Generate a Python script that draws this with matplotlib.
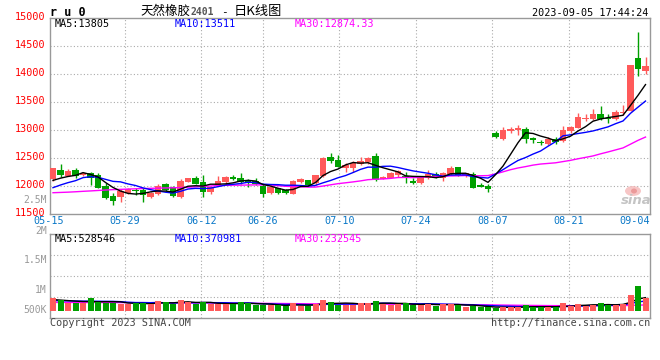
import matplotlib
matplotlib.use("Agg")
import matplotlib.pyplot as plt
from matplotlib import transforms
from matplotlib.patches import Ellipse

# ---------------- data ----------------
opens = [12119, 12286, 12184, 12286, 12190, 12226, 12196, 12006, 11821, 11798,
         11869, 11929, 11929, 11798, 11851, 12030, 11988, 11798, 12077, 12137,
         12077, 11899, 12018, 12077, 12155, 12149, 12107, 12089, 12000, 11869,
         11958, 11929, 11857, 12077, 12107, 12048, 12179, 12524, 12464, 12315,
         12315, 12393, 12423, 12536, 12131, 12149, 12196, 12184, 12083, 12048,
         12137, 12214, 12137, 12208, 12345, 12184, 12214, 12018, 12006, 12940,
         12845, 12988, 13000, 13018, 12851, 12792, 12750, 12833, 12809, 12988,
         13042, 13196, 13196, 13280, 13220, 13190, 13310, 13345, 14280, 14059]
highs = [12330, 12393, 12298, 12330, 12256, 12256, 12238, 12048, 11869, 11940,
         11958, 11970, 11970, 11899, 12036, 12060, 12000, 12119, 12149, 12179,
         12196, 12000, 12179, 12179, 12196, 12238, 12125, 12149, 12030, 12018,
         11970, 11940, 12107, 12143, 12107, 12196, 12515, 12583, 12554, 12410,
         12440, 12524, 12524, 12583, 12179, 12256, 12286, 12256, 12137, 12179,
         12286, 12256, 12256, 12357, 12345, 12226, 12256, 12048, 12036, 12988,
         13048, 13059, 13089, 13048, 12881, 12821, 12881, 12881, 13071, 13071,
         13298, 13280, 13369, 13429, 13286, 13357, 13446, 14165, 14756, 14309]
lows = [12090, 12167, 12179, 12137, 12179, 12018, 11958, 11762, 11661, 11720,
        11857, 11839, 11720, 11780, 11839, 11917, 11810, 11790, 12065, 12030,
        11810, 11857, 12000, 12018, 12100, 12036, 11976, 12012, 11810, 11857,
        11857, 11857, 11850, 12060, 12006, 12018, 12167, 12417, 12333, 12256,
        12244, 12375, 12393, 12095, 12119, 12137, 12167, 12048, 12036, 12040,
        12119, 12137, 12095, 12196, 12184, 12167, 11958, 11976, 11899, 12851,
        12821, 12940, 12911, 12774, 12774, 12732, 12732, 12750, 12792, 12940,
        13030, 13161, 13179, 13179, 13119, 13179, 13268, 13340, 13970, 13994]
closes = [12315, 12190, 12274, 12179, 12238, 12149, 11970, 11780, 11732, 11917,
          11940, 11911, 11839, 11869, 12000, 11929, 11821, 12095, 12137, 12042,
          11899, 11988, 12095, 12167, 12131, 12065, 12048, 12036, 11857, 11988,
          11869, 11881, 12095, 12119, 12018, 12196, 12506, 12452, 12345, 12380,
          12410, 12452, 12494, 12107, 12167, 12226, 12268, 12137, 12060, 12155,
          12214, 12179, 12226, 12315, 12196, 12226, 11970, 11988, 11946, 12881,
          12995, 13012, 13030, 12833, 12821, 12762, 12833, 12792, 13000, 13059,
          13226, 13220, 13280, 13196, 13190, 13321, 13327, 14161, 14095, 14149]

ma5 = [12100, 12140, 12170, 12190, 12239, 12206, 12162, 12063, 11974, 11910,
       11868, 11856, 11868, 11895, 11912, 11910, 11892, 11943, 11996, 12005,
       11999, 12032, 12032, 12038, 12056, 12089, 12101, 12089, 12027, 11999,
       11960, 11926, 11938, 11990, 11996, 12062, 12187, 12258, 12303, 12376,
       12419, 12408, 12416, 12369, 12326, 12289, 12252, 12181, 12172, 12169,
       12167, 12149, 12167, 12218, 12226, 12228, 12187, 12139, 12065, 12202,
       12356, 12564, 12773, 12950, 12938, 12892, 12856, 12808, 12842, 12889,
       12982, 13059, 13157, 13196, 13222, 13241, 13263, 13439, 13619, 13811]
ma10 = [11970, 12018, 12060, 12095, 12149, 12167, 12155, 12119, 12083, 12074,
        12037, 12009, 11966, 11935, 11911, 11889, 11874, 11905, 11946, 11958,
        11954, 11962, 11988, 12017, 12030, 12044, 12067, 12061, 12033, 12027,
        12024, 12014, 12014, 12009, 11998, 12011, 12057, 12098, 12147, 12186,
        12240, 12297, 12337, 12336, 12351, 12354, 12330, 12299, 12270, 12248,
        12228, 12201, 12174, 12195, 12198, 12198, 12168, 12153, 12142, 12214,
        12292, 12376, 12456, 12508, 12570, 12624, 12710, 12791, 12896, 12914,
        12937, 12958, 12983, 13019, 13056, 13112, 13161, 13298, 13408, 13517]
ma30 = [11880, 11885, 11890, 11897, 11905, 11912, 11920, 11928, 11935, 11940,
        11945, 11950, 11955, 11958, 11962, 11965, 11968, 11972, 11978, 11985,
        11993, 12000, 12008, 12012, 12015, 12015, 12018, 12020, 12020, 12020,
        12005, 11995, 11989, 11987, 11980, 11981, 11999, 12021, 12042, 12057,
        12073, 12091, 12113, 12121, 12126, 12136, 12151, 12153, 12150, 12154,
        12164, 12171, 12175, 12180, 12182, 12187, 12185, 12183, 12186, 12216,
        12253, 12291, 12322, 12346, 12373, 12392, 12403, 12414, 12436, 12458,
        12486, 12511, 12537, 12574, 12608, 12644, 12680, 12747, 12815, 12874]

# volumes in thousands
volume = [489, 424, 296, 320, 296, 500, 358, 320, 320, 270,
          270, 296, 296, 270, 385, 347, 270, 435, 335, 270,
          347, 270, 270, 270, 270, 347, 320, 219, 219, 219,
          219, 193, 320, 193, 193, 270, 435, 358, 231, 231,
          231, 308, 308, 385, 270, 231, 270, 308, 231, 231,
          270, 204, 270, 270, 231, 166, 193, 142, 142, 116,
          142, 142, 142, 231, 166, 142, 142, 142, 308, 193,
          270, 193, 231, 308, 231, 231, 270, 616, 963, 489]
vma5 = [440, 420, 400, 380, 365, 367, 354, 359, 359, 354,
        308, 295, 290, 280, 303, 319, 314, 341, 354, 331,
        331, 331, 298, 285, 285, 285, 295, 285, 275, 265,
        239, 214, 234, 229, 224, 234, 282, 290, 297, 305,
        297, 272, 262, 293, 300, 300, 293, 293, 262, 254,
        262, 249, 241, 249, 249, 228, 226, 200, 175, 152,
        147, 137, 137, 155, 165, 165, 165, 165, 180, 185,
        211, 221, 239, 239, 247, 239, 254, 331, 462, 514]
vma10 = [400, 395, 390, 385, 380, 378, 375, 372, 370, 360,
         338, 325, 325, 320, 329, 314, 305, 316, 317, 317,
         325, 323, 320, 320, 308, 308, 313, 292, 280, 275,
         262, 255, 260, 252, 245, 237, 248, 262, 263, 265,
         266, 277, 276, 295, 303, 299, 283, 278, 278, 277,
         281, 271, 267, 256, 252, 245, 238, 221, 212, 201,
         188, 182, 169, 165, 159, 156, 151, 151, 168, 175,
         188, 193, 202, 210, 216, 225, 238, 285, 351, 381]
vma30 = [330, 330, 328, 328, 327, 327, 326, 325, 324, 323,
         322, 320, 318, 316, 315, 314, 313, 312, 311, 310,
         309, 308, 306, 304, 302, 300, 298, 296, 294, 292,
         290, 287, 284, 281, 278, 276, 275, 274, 272, 270,
         268, 266, 265, 264, 263, 262, 262, 261, 260, 258,
         256, 254, 252, 250, 248, 246, 243, 240, 236, 232,
         228, 224, 220, 217, 214, 211, 208, 206, 205, 204,
         204, 204, 204, 205, 205, 206, 208, 215, 225, 233]

date_labels = ['05-15', '05-29', '06-12', '06-26', '07-10', '07-24', '08-07', '08-21', '09-04']
date_index = [0, 10, 20, 28, 38, 48, 58, 68, 78]
price_ticks = [11500, 12000, 12500, 13000, 13500, 14000, 14500, 15000]
vol_tick_labels = ['2.5M', '2M', '1.5M', '1M', '500K']

# ---------------- layout ----------------
W, H = 660, 360
fig = plt.figure(figsize=(6.6, 3.6), dpi=100)
fig.patch.set_facecolor('white')


def fx(p):
    return p / W


def fy(p):
    return 1 - p / H


MONO = 'DejaVu Sans Mono'
CJK = ['Noto Sans CJK SC', 'DejaVu Sans']
FS = 7.3
UP = '#ff5a5a'
DN = '#00a000'
GRID = '#aaaaaa'
DOT = (0, (1, 2))
SPINE = '#999999'

ax = fig.add_axes([fx(50), fy(214), 600 / W, 196 / H])
axv = fig.add_axes([fx(50), fy(318), 600 / W, 84 / H])

n = len(closes)
xs = list(range(n))
cols = [UP if c >= o else DN for o, c in zip(opens, closes)]
bottoms = [min(o, c) for o, c in zip(opens, closes)]
heights = [max(abs(c - o), 14) for o, c in zip(opens, closes)]

# grid positions (Sina places its date grid on a slightly wider scale)
gx = [i * 1.02 - 0.6 for i in date_index]

for a in (ax, axv):
    a.set_xlim(-0.4, 79.6)
    for g in gx[1:-1]:
        a.axvline(g, color=GRID, lw=0.8, ls=DOT, zorder=1)
    for s in a.spines.values():
        s.set_color(SPINE)
        s.set_linewidth(1.0)
    a.set_xticks([])
    a.set_facecolor('white')

# main price panel
ax.set_ylim(11500, 15000)
for v in price_ticks[1:-1]:
    ax.axhline(v, color=GRID, lw=0.8, ls=DOT, zorder=1)
ax.vlines(xs, lows, highs, colors=cols, lw=1.0, zorder=2)
ax.bar(xs, heights, bottom=bottoms, width=0.82, color=cols, lw=0, zorder=3)
ax.plot(xs, ma30, color='#ff00ff', lw=1.0, zorder=4)
ax.plot(xs, ma10, color='#0000ff', lw=1.0, zorder=4)
ax.plot(xs, ma5, color='black', lw=1.0, zorder=4)

ax.set_yticks(price_ticks)
ax.set_yticklabels([str(t) for t in price_ticks])
ax.tick_params(axis='y', length=0, pad=3, labelcolor='#ff0000', labelsize=FS)
shift = transforms.ScaledTranslation(0, 2 / 100, fig.dpi_scale_trans)
for lbl in ax.get_yticklabels():
    lbl.set_family(MONO)
    lbl.set_transform(lbl.get_transform() + shift)

# date labels between panels
bl = transforms.blended_transform_factory(ax.transData, ax.transAxes)
for k, (g, lab) in enumerate(zip(gx, date_labels)):
    if k == len(date_labels) - 1:
        ax.text(1.0, -7.5 / 196, lab, transform=ax.transAxes, ha='right', va='center',
                color='#0a78c8', family=MONO, fontsize=FS)
    else:
        ax.text(g, -7.5 / 196, lab, transform=bl, ha='center', va='center',
                color='#0a78c8', family=MONO, fontsize=FS)

# volume panel
kpx = 38.5  # thousand per pixel
axv.set_ylim(-7 * kpx, 77 * kpx)
axv.set_yticks([])
for f in (0.25, 0.5, 0.75):
    axv.plot([0, 1], [f, f], transform=axv.transAxes, color=GRID, lw=0.8, ls=DOT, zorder=1)
axv.plot(xs, vma30, color='#ff00ff', lw=1.0, zorder=2)
axv.plot(xs, vma10, color='#0000ff', lw=1.0, zorder=2)
axv.plot(xs, vma5, color='black', lw=1.0, zorder=2)
axv.bar(xs, volume, width=0.8, color=cols, lw=0, zorder=3)

# volume axis labels (as drawn by the original)
for lab, py in zip(vol_tick_labels, [200, 231, 260, 290, 310]):
    fig.text(fx(47), fy(py), lab, ha='right', va='center', color='#999999',
             family=MONO, fontsize=7.0)

# header
fig.text(fx(50), fy(15.5), 'r u 0', ha='left', va='baseline', family=MONO,
         weight='bold', fontsize=8.5, color='black')
fig.text(fx(140), fy(15), '天然橡胶', ha='left', va='baseline', family=CJK,
         fontsize=9, color='black')
fig.text(fx(191), fy(15), '2401', ha='left', va='baseline', family=MONO,
         fontsize=7.0, color='#555555', weight='bold')
fig.text(fx(221), fy(15), '-', ha='left', va='baseline', family=MONO,
         fontsize=8, color='black')
fig.text(fx(234), fy(15), '日K线图', ha='left', va='baseline', family=CJK,
         fontsize=9.5, color='black')
fig.text(fx(648), fy(15.5), '2023-09-05 17:44:24', ha='right', va='baseline',
         family=MONO, fontsize=FS, color='black')

# MA legends
fig.text(fx(55), fy(23.7), 'MA5:13805', ha='left', va='center', family=MONO,
         fontsize=FS, color='black')
fig.text(fx(175), fy(23.7), 'MA10:13511', ha='left', va='center', family=MONO,
         fontsize=FS, color='#0000ff')
fig.text(fx(295), fy(23.7), 'MA30:12874.33', ha='left', va='center', family=MONO,
         fontsize=FS, color='#ff00ff')
fig.text(fx(55), fy(238.5), 'MA5:528546', ha='left', va='center', family=MONO,
         fontsize=FS, color='black')
fig.text(fx(175), fy(238.5), 'MA10:370981', ha='left', va='center', family=MONO,
         fontsize=FS, color='#0000ff')
fig.text(fx(295), fy(238.5), 'MA30:232545', ha='left', va='center', family=MONO,
         fontsize=FS, color='#ff00ff')

# footer
fig.text(fx(50), fy(325.5), 'Copyright 2023 SINA.COM', ha='left', va='baseline',
         family=MONO, fontsize=FS, color='#444444')
fig.text(fx(650), fy(325.5), 'http://finance.sina.com.cn', ha='right', va='baseline',
         family=MONO, fontsize=FS, color='#444444')

# sina watermark
fig.patches.append(Ellipse((fx(633), fy(191)), 16 / W, 10 / H, transform=fig.transFigure,
                           facecolor='#f5b8b8', edgecolor='none', alpha=0.8))
fig.patches.append(Ellipse((fx(634), fy(191)), 6 / W, 5 / H, transform=fig.transFigure,
                           facecolor='#e89090', edgecolor='none', alpha=0.8))
fig.text(fx(636), fy(204), 'sina', ha='center', va='baseline', style='italic',
         weight='bold', fontsize=9.5, color='#c4c4c4')

fig.savefig('out.png', dpi=100, facecolor='white')
